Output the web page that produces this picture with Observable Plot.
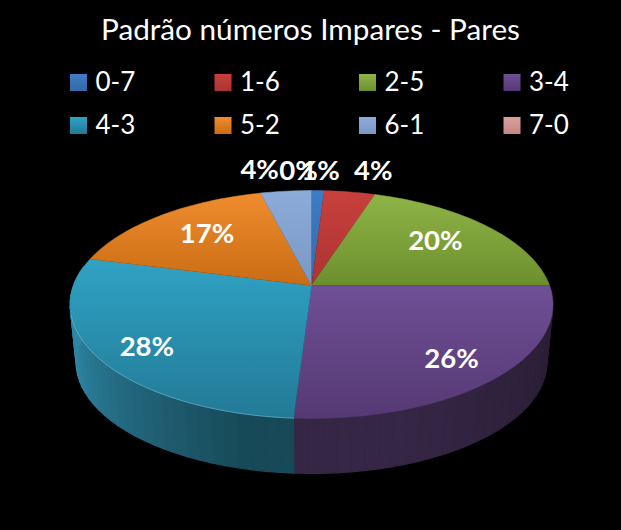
<!DOCTYPE html>
<html><head><meta charset="utf-8">
<style>html,body{margin:0;padding:0;background:#000}svg{display:block}</style>
<script src="https://cdn.jsdelivr.net/npm/d3@7"></script>
<script src="https://cdn.jsdelivr.net/npm/@observablehq/plot@0.6"></script>
</head><body><div id="chart"></div>
<script>
const title = "Padrão números Impares - Pares";
const categories = ["0-7","1-6","2-5","3-4","4-3","5-2","6-1","7-0"];
const shares = [1,4,20,26,28,17,4,0];
const lightColors = ["#3f7cc4","#c8403d","#8fb446","#6f4f96","#30a2c4","#ef8c2e","#8dabd8","#dba09e"];
const darkColors  = ["#336aa8","#ab3331","#6c8f2e","#553973","#227a96","#c96c14","#7a98c6","#c58785"];
const wallStart   = ["#22456e","#6e2222","#48601f","#291c33","#174958","#7a430d","#4c6283","#7d5655"];
const wallEnd     = ["#22456e","#6e2222","#48601f","#342644","#2e86a4","#7a430d","#4c6283","#7d5655"];
const font = "Lato, Carlito, sans-serif";

const W = 621, H = 530;
const persp = 1/6;
const top3d = {cx:311, cy:285, rx:238, ry:110.8, s:1};
const base3d = {cx:311, cy:343.3, rx:238, ry:110.8, s:0.975};
function project(deg, r, m = top3d) {
  const a = deg*Math.PI/180, sx = Math.sin(a)*r, cy = -Math.cos(a)*r;
  const w = 1 - persp*cy;
  return {x: m.cx + m.s*m.rx*sx/w, y: m.cy + m.s*m.ry*cy/w};
}
let acc = 0;
const slices = categories.map((name,i)=>{
  const start = acc*3.6; acc += shares[i]; const end = acc*3.6;
  return {name,i,share:shares[i],start,end,mid:(start+end)/2};
});
function arc(a,b,m){const n=Math.max(2,Math.ceil((b-a)/1.5));return d3.range(n+1).map(k=>project(a+(b-a)*k/n,1,m));}

// side wall: short quads along the front of the rim
const wall = [];
let seg = 0;
for (const s of slices) {
  const a0 = Math.max(s.start,90), a1 = Math.min(s.end,280);
  if (a1 <= a0) continue;
  const n = Math.ceil((a1-a0)/3);
  const mix = d3.interpolateRgb(wallStart[s.i], wallEnd[s.i]);
  for (let k=0;k<n;k++){
    const a=a0+(a1-a0)*k/n, b=a0+(a1-a0)*(k+1)/n;
    const t=Math.max(0,Math.min(1,((k+.5)/n-.1)*1.6)), color=mix(t);
    seg++;
    const c0=project(a,1);
    for (const p of [c0,project(b,1),project(b,1,base3d),project(a,1,base3d),c0])
      wall.push({...p,seg,color});
  }
}

const defs = () => {
  const d = d3.create("svg:defs");
  categories.forEach((c,i)=>{
    const g=d.append("linearGradient").attr("id","g"+i).attr("x1",0).attr("y1",0).attr("x2",0).attr("y2",1);
    g.append("stop").attr("offset",0).attr("stop-color",lightColors[i]);
    g.append("stop").attr("offset",1).attr("stop-color",darkColors[i]);
  });
  return d.node();
};

const wedgeMarks = slices.filter(s=>s.share>0).map(s=>
  Plot.line([{x:top3d.cx,y:top3d.cy},...arc(s.start,s.end)],{x:"x",y:"y",fill:`url(#g${s.i})`,stroke:`url(#g${s.i})`,strokeWidth:0.5})
);

// legend (four columns, two rows)
const legend = categories.map((name,i)=>({name,i,col:i%4,row:Math.floor(i/4)}));
const colX = c=>70+c*144.5, rowY = r=>74+r*43;
const swatchMarks = legend.map(d=>Plot.rect([d],{
  x1:v=>colX(v.col),x2:v=>colX(v.col)+17,y1:v=>rowY(v.row),y2:v=>rowY(v.row)+17,
  fill:`url(#g${d.i})`
}));

const labelRadius = [1.2,1.2,.74,.74,.74,.74,1.2,1.2];
const labelNudge = [[1.5,-4],[17,-5],[-9,1],[7.5,8],[-11,10],[10,2],[-22,-5],[-13,-4]];
const labelOrder = [6,7,0,1,2,3,4,5];
const labelMarks = labelOrder.map(i=>{
  const s=slices[i], p=project(s.mid,labelRadius[i]);
  return Plot.text([{...p,t:s.share+"%"}],{x:"x",y:"y",text:"t",dx:labelNudge[i][0],dy:labelNudge[i][1],
    fill:"#fff",fontSize:27.5,fontWeight:700,fontFamily:font});
});

const chart = Plot.plot({
  width:W,height:H,margin:0,
  style:{background:"#000",overflow:"hidden"},
  x:{domain:[0,W],range:[0,W],axis:null},
  y:{domain:[0,H],range:[0,H],axis:null},
  marks:[
    defs,
    Plot.text([title],{x:()=>310,y:()=>30,text:d=>d,fill:"#fff",fontSize:29.7,fontFamily:font}),
    ...swatchMarks,
    Plot.text(legend,{x:d=>colX(d.col)+25,y:d=>rowY(d.row)+8,text:"name",textAnchor:"start",fill:"#fff",fontSize:26,fontFamily:font}),
    Plot.line(wall,{x:"x",y:"y",z:"seg",fill:"color",stroke:"color",strokeWidth:1.2}),
    ...wedgeMarks,
    Plot.line(arc(slices[4].start,255),{x:"x",y:"y",stroke:"#7cc4d8",strokeOpacity:.55,strokeWidth:1}),
    ...labelMarks
  ]
});
document.getElementById("chart").append(chart);
</script></body></html>
